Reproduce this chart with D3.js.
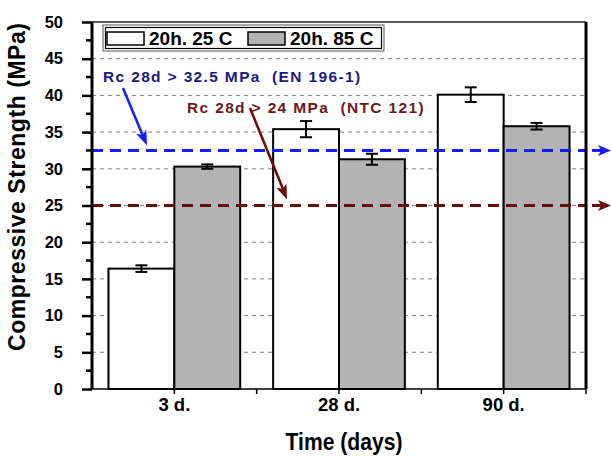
<!DOCTYPE html>
<html>
<head>
<meta charset="utf-8">
<script src="https://cdn.jsdelivr.net/npm/d3@7"></script>
<style>
body { margin: 0; background: #fff; }
svg { display: block; font-family: "Liberation Sans", Arial, sans-serif; font-weight: bold; }
text { white-space: pre; }
</style>
</head>
<body>
<svg id="chart" width="611" height="456"></svg>
<script>
// data
var categories = ["3 d.", "28 d.", "90 d."];
var series = ["20h. 25 C", "20h. 85 C"];
var fills = ["#ffffff", "#b3b3b3"];
var values25 = [16.4, 35.4, 40.1];
var values85 = [30.3, 31.3, 35.8];
var err25 = [0.45, 1.1, 1.0];
var err85 = [0.3, 0.75, 0.45];
var yTicks = [0, 5, 10, 15, 20, 25, 30, 35, 40, 45, 50];
var limits = [32.5, 25];
var limitColors = ["#1a1aff", "#6b0a0a"];
var limitText = ["Rc 28d > 32.5 MPa  (EN 196-1)", "Rc 28d > 24 MPa  (NTC 121)"];
var limitTextColors = ["#1b1a80", "#6b1a1a"];

var mLeft = 92, mRight = 586, mTop = 22, mBottom = 389;
var svg = d3.select("#chart");

var x = d3.scaleBand().domain(categories).range([mLeft, mRight]);
var xs = d3.scaleBand().domain(series).range([0.1 * x.bandwidth(), 0.9 * x.bandwidth()]);
var y = d3.scaleLinear().domain([0, 50]).range([mBottom, mTop]);

// gridlines
svg.append("g").selectAll("line")
  .data(yTicks.filter(function(d){ return d > 0 && d < 50; }))
  .enter().append("line")
  .attr("x1", mLeft).attr("x2", mRight)
  .attr("y1", function(d){ return y(d); }).attr("y2", function(d){ return y(d); })
  .attr("stroke", "#808080").attr("stroke-width", 1).attr("stroke-dasharray", "4,4");

// bars
var rows = [];
categories.forEach(function(c, i){
  rows.push({c: c, s: series[0], v: values25[i], e: err25[i], f: fills[0]});
  rows.push({c: c, s: series[1], v: values85[i], e: err85[i], f: fills[1]});
});
svg.append("g").selectAll("rect").data(rows).enter().append("rect")
  .attr("x", function(d){ return x(d.c) + xs(d.s); })
  .attr("y", function(d){ return y(d.v); })
  .attr("width", xs.bandwidth())
  .attr("height", function(d){ return y(0) - y(d.v); })
  .attr("fill", function(d){ return d.f; })
  .attr("stroke", "#000").attr("stroke-width", 2);

// error bars
var eb = svg.append("g").attr("stroke", "#000").attr("stroke-width", 2);
rows.forEach(function(d){
  var cx = x(d.c) + xs(d.s) + xs.bandwidth() / 2;
  eb.append("line").attr("x1", cx).attr("x2", cx).attr("y1", y(d.v - d.e)).attr("y2", y(d.v + d.e));
  eb.append("line").attr("x1", cx - 6).attr("x2", cx + 6).attr("y1", y(d.v - d.e)).attr("y2", y(d.v - d.e));
  eb.append("line").attr("x1", cx - 6).attr("x2", cx + 6).attr("y1", y(d.v + d.e)).attr("y2", y(d.v + d.e));
});

function arrowHead(g, x1, y1, x2, y2, col, len, wid) {
  var a = Math.atan2(y2 - y1, x2 - x1);
  var bx = x2 - len * Math.cos(a), by = y2 - len * Math.sin(a);
  var px = -Math.sin(a) * wid / 2, py = Math.cos(a) * wid / 2;
  g.append("polygon")
    .attr("points", [[x2, y2], [bx + px, by + py], [bx + len * 0.25 * Math.cos(a), by + len * 0.25 * Math.sin(a)], [bx - px, by - py]].join(" "))
    .attr("fill", col);
}

// limit lines
limits.forEach(function(v, i){
  var g = svg.append("g");
  g.append("line").attr("x1", mLeft).attr("x2", mRight).attr("y1", y(v)).attr("y2", y(v))
    .attr("stroke", limitColors[i]).attr("stroke-width", 3).attr("stroke-dasharray", "11,7");
  g.append("line").attr("x1", 592).attr("x2", 603).attr("y1", y(v)).attr("y2", y(v))
    .attr("stroke", limitColors[i]).attr("stroke-width", 3);
  arrowHead(g, 592, y(v), 611, y(v), limitColors[i], 13, 11);
});

// annotation texts and arrows
svg.append("text").attr("x", 103).attr("y", 82).attr("fill", limitTextColors[0])
  .attr("font-size", 15.5).attr("letter-spacing", 1.35).text(limitText[0]);
svg.append("text").attr("x", 187).attr("y", 113).attr("fill", limitTextColors[1])
  .attr("font-size", 15.5).attr("letter-spacing", 1.35).text(limitText[1]);

var ann = svg.append("g");
ann.append("line").attr("x1", 123).attr("y1", 88).attr("x2", 143).attr("y2", 136)
  .attr("stroke", limitColors[0]).attr("stroke-width", 2.5);
arrowHead(ann, 123, 88, 147, y(32.5) - 5, limitColors[0], 15, 11);
ann.append("line").attr("x1", 250).attr("y1", 108).attr("x2", 283).attr("y2", 189)
  .attr("stroke", limitColors[1]).attr("stroke-width", 2.5);
arrowHead(ann, 250, 108, 287, y(25) - 6, limitColors[1], 15, 11);

// frame
svg.append("line").attr("x1", mLeft).attr("x2", mRight).attr("y1", mTop).attr("y2", mTop)
  .attr("stroke", "#222").attr("stroke-width", 1.5);
svg.append("line").attr("x1", mRight).attr("x2", mRight).attr("y1", mTop).attr("y2", mBottom)
  .attr("stroke", "#000").attr("stroke-width", 3);

// y axis
var yAxis = d3.axisLeft(y).tickValues(yTicks).tickSize(10).tickPadding(19);
var gy = svg.append("g").attr("transform", "translate(" + mLeft + ",0)").call(yAxis);
gy.select(".domain").attr("stroke-width", 3).attr("d", "M0," + mTop + "V" + mBottom);
gy.selectAll(".tick line").attr("stroke-width", 2.5);
gy.selectAll(".tick text").attr("font-size", 16.5).attr("font-family", null).attr("fill", "#000");
var minor = d3.range(2.5, 50, 5);
svg.append("g").selectAll("line").data(minor).enter().append("line")
  .attr("x1", mLeft - 6).attr("x2", mLeft)
  .attr("y1", function(d){ return y(d); }).attr("y2", function(d){ return y(d); })
  .attr("stroke", "#000").attr("stroke-width", 2.5);

// x axis
var gx = svg.append("g").attr("transform", "translate(0," + mBottom + ")")
  .call(d3.axisBottom(x).tickSize(5).tickPadding(4));
gx.select(".domain").attr("stroke-width", 1.5).attr("d", "M" + mLeft + ",0H" + mRight);
gx.selectAll(".tick line").attr("stroke-width", 1.5);
gx.selectAll(".tick text").attr("font-size", 18.5).attr("font-family", null).attr("fill", "#000");
svg.append("g").selectAll("line").data(categories).enter().append("line")
  .attr("x1", function(d){ return x(d) + x.bandwidth(); }).attr("x2", function(d){ return x(d) + x.bandwidth(); })
  .attr("y1", mBottom).attr("y2", mBottom + 5)
  .attr("stroke", "#000").attr("stroke-width", 1.5);

// titles
svg.append("text").attr("transform", "translate(344,450) scale(0.88,1)").attr("text-anchor", "middle")
  .attr("font-size", 24).text("Time (days)");
svg.append("text").attr("transform", "translate(25,187) rotate(-90)").attr("text-anchor", "middle")
  .attr("font-size", 23).attr("textLength", 328).attr("lengthAdjust", "spacing")
  .text("Compressive Strength (MPa)");

// legend
var lg = svg.append("g");
lg.append("rect").attr("x", 103).attr("y", 25).attr("width", 281).attr("height", 26)
  .attr("fill", "#fff").attr("stroke", "#555").attr("stroke-width", 1);
lg.append("rect").attr("x", 105.5).attr("y", 27.5).attr("width", 276).attr("height", 21)
  .attr("fill", "none").attr("stroke", "#000").attr("stroke-width", 1.2);
var lx = [107, 248];
series.forEach(function(s, i){
  lg.append("rect").attr("x", lx[i]).attr("y", 32).attr("width", 37).attr("height", 13)
    .attr("fill", fills[i]).attr("stroke", "#000").attr("stroke-width", 1.5);
  lg.append("text").attr("x", lx[i] + 42).attr("y", 45).attr("font-size", 19).text(s);
});
</script>
</body>
</html>
